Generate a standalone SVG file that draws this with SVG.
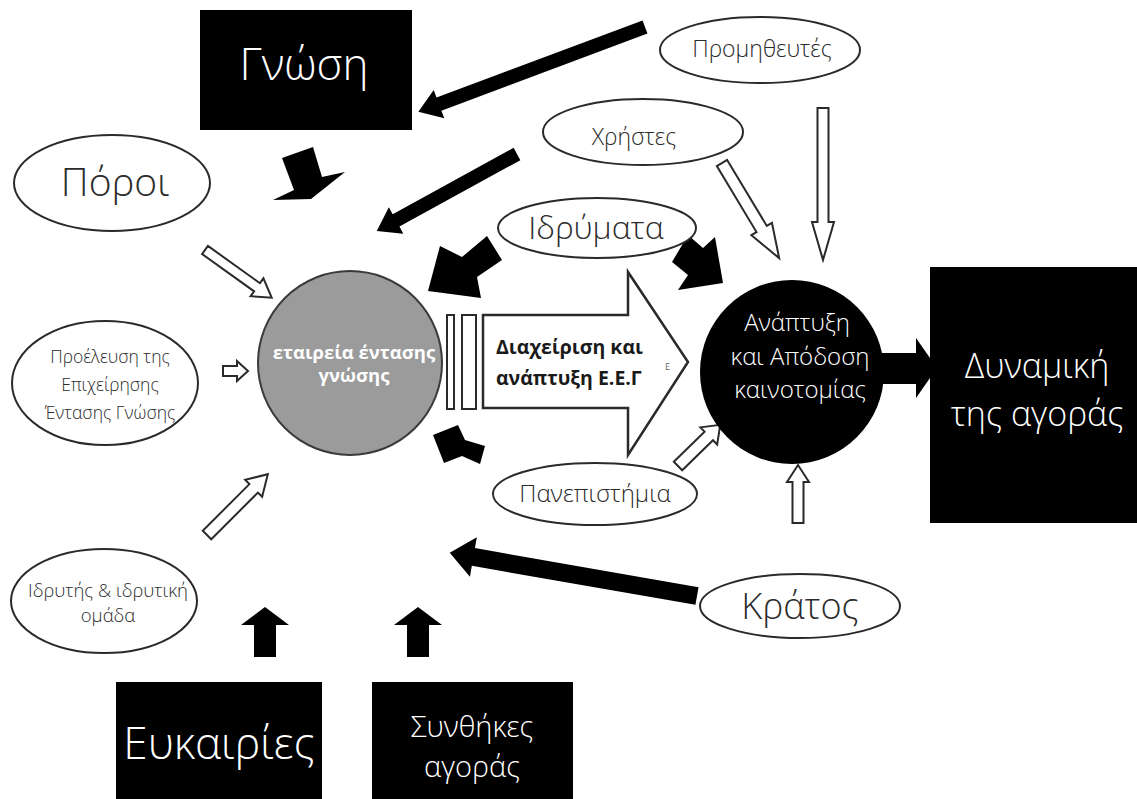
<svg xmlns="http://www.w3.org/2000/svg" width="1137" height="799" viewBox="0 0 1137 799">
<style>
.t{font-family:"Open Sans","Noto Sans","DejaVu Sans",sans-serif;font-weight:300;fill:#2b2b2b;text-anchor:middle}
.w{fill:#fff}
.bold{font-weight:700}
.el{fill:#fff;stroke:#2a2a2a;stroke-width:2}
.box{fill:#000}
.blk{fill:#000}
.wa{fill:#fff;stroke:#2a2a2a;stroke-width:2}
.pt{font-family:"Open Sans","Noto Sans",sans-serif;font-weight:700;font-size:19.5px;fill:#1a1a1a}
</style>
<rect width="1137" height="799" fill="#fff"/>

<g id="connectors">
  <path class="blk" d="M0,-7H220V-15L242,0L220,15V7H0Z" transform="translate(645,27) rotate(159.47)"/>
  <path class="blk" d="M0,-7H138V-15L160,0L138,15V7H0Z" transform="translate(517,154) rotate(151.2)"/>
  <polygon class="blk" points="282,158 313,147 322,177 345,172 311,199 273,200 294,190"/>
  <polygon class="blk" points="487,236 502,260 477,277 481,298 428,291 440,246 462,257"/>
  <polygon class="blk" points="688,235 703,248 715,237 723,283 678,290 688,275 672,262"/>
  <polygon class="blk" points="433,435 458,425 465,440 485,446 480,464 462,456 444,463"/>
  <path class="blk" d="M0,-9H227V-20L251,0L227,20V9H0Z" transform="translate(697,596) rotate(189.9)"/>
  <polygon class="blk" points="254,657 254,625 241,625 265,607 289,625 276,625 276,657"/>
  <polygon class="blk" points="407,657 407,625 394,625 418,607 442,625 429,625 429,657"/>
  <polygon class="blk" points="880,353 916,353 916,338 937,368 916,398 916,384 880,384"/>
  <path class="wa" d="M0,-5H64V-11L82,0L64,11V5H0Z" transform="translate(205,250) rotate(35.6)"/>
  <path class="wa" d="M0,-5H14V-10L25,0L14,10V5H0Z" transform="translate(223,371)"/>
  <path class="wa" d="M0,-6H66V-12L86,0L66,12V6H0Z" transform="translate(207,535) rotate(-45)"/>
  <path class="wa" d="M0,-6H77V-12L111,0L77,12V6H0Z" transform="translate(722,163) rotate(59)"/>
  <path class="wa" d="M0,-5.5H114V-11L152,0L114,11V5.5H0Z" transform="translate(823,108) rotate(90)"/>
  <path class="wa" d="M0,-6H43V-12L59,0L43,12V6H0Z" transform="translate(678,466) rotate(-44.3)"/>
  <path class="wa" d="M0,-5.5H41V-11L58,0L41,11V5.5H0Z" transform="translate(798,523) rotate(-90)"/>
</g>

<g id="gnosi">
  <rect class="box" x="200" y="10" width="212" height="120"/>
  <text class="t w" x="304" y="80" font-size="44">Γνώση</text>
</g>
<g id="promitheftes">
  <ellipse class="el" cx="760" cy="50" rx="100" ry="33"/>
  <text class="t" x="762" y="57" font-size="23">Προμηθευτές</text>
</g>
<g id="xristes">
  <ellipse class="el" cx="643" cy="132" rx="100" ry="33"/>
  <text class="t" x="634" y="145" font-size="23">Χρήστες</text>
</g>
<g id="poroi">
  <ellipse class="el" cx="112" cy="183" rx="98" ry="48"/>
  <text class="t" x="115" y="196" font-size="39">Πόροι</text>
</g>
<g id="idrymata">
  <ellipse class="el" cx="597" cy="228" rx="99" ry="30"/>
  <text class="t" x="596" y="239" font-size="32">Ιδρύματα</text>
</g>
<g id="proeleusi">
  <ellipse class="el" cx="105" cy="383" rx="93" ry="62"/>
  <text class="t" x="110" y="363" font-size="17.5">Προέλευση της</text>
  <text class="t" x="110" y="391" font-size="17.5">Επιχείρησης</text>
  <text class="t" x="110" y="419" font-size="17.5">Έντασης Γνώσης</text>
</g>
<g id="etaireia">
  <circle cx="350" cy="363" r="92" fill="#9b9b9b" stroke="#3a3a3a" stroke-width="2"/>
  <text class="t w bold" x="354" y="359" font-size="18.5">εταιρεία έντασης</text>
  <text class="t w bold" x="354" y="382" font-size="18.5">γνώσης</text>
</g>
<g id="diaxeirisi">
  <rect x="447" y="315" width="7" height="94" fill="#fff" stroke="#2a2a2a" stroke-width="2"/>
  <rect x="462" y="315" width="14" height="94" fill="#fff" stroke="#2a2a2a" stroke-width="2"/>
  <polygon points="483,315 628,315 628,272 688,362 628,455 628,408 483,408" fill="#fff" stroke="#2a2a2a" stroke-width="2.5"/>
  <text class="pt" x="496" y="354">Διαχείριση και</text>
  <text class="pt" x="496" y="385">ανάπτυξη Ε.Ε.Γ</text>
  <text x="665" y="370" font-family="'Open Sans',sans-serif" font-size="9" fill="#666">E</text>
</g>
<g id="kainotomia">
  <circle cx="792" cy="372" r="92" fill="#000"/>
  <text class="t w" x="797" y="331" font-size="24">Ανάπτυξη</text>
  <text class="t w" x="800" y="365" font-size="24">και Απόδοση</text>
  <text class="t w" x="800" y="398" font-size="24">καινοτομίας</text>
</g>
<g id="dynamiki">
  <rect class="box" x="930" y="267" width="207" height="256"/>
  <text class="t w" x="1037" y="378" font-size="34">Δυναμική</text>
  <text class="t w" x="1037" y="426" font-size="34">της αγοράς</text>
</g>
<g id="panepistimia">
  <ellipse class="el" cx="595" cy="494" rx="102" ry="31"/>
  <text class="t" x="595" y="502" font-size="24">Πανεπιστήμια</text>
</g>
<g id="kratos">
  <ellipse class="el" cx="800" cy="606" rx="100" ry="32"/>
  <text class="t" x="800" y="619" font-size="36">Κράτος</text>
</g>
<g id="idrytis">
  <ellipse class="el" cx="104" cy="601" rx="93" ry="52"/>
  <text class="t" x="108" y="597" font-size="18.5">Ιδρυτής &amp; ιδρυτική</text>
  <text class="t" x="108" y="622" font-size="18.5">ομάδα</text>
</g>
<g id="eukairies">
  <rect class="box" x="116" y="682" width="206" height="117"/>
  <text class="t w" x="219" y="759" font-size="44">Ευκαιρίες</text>
</g>
<g id="synthikes">
  <rect class="box" x="372" y="682" width="201" height="117"/>
  <text class="t w" x="472" y="737" font-size="29">Συνθήκες</text>
  <text class="t w" x="472" y="777" font-size="29">αγοράς</text>
</g>
</svg>
